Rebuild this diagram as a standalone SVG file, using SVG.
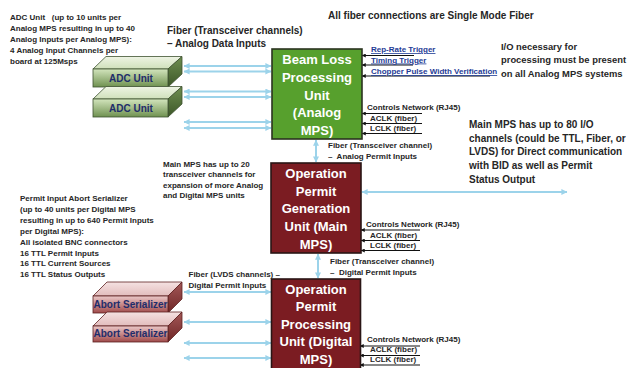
<svg xmlns="http://www.w3.org/2000/svg" width="632" height="368" viewBox="0 0 632 368">
<defs>
<style>
text{font-family:"Liberation Sans",Arial,sans-serif;font-weight:bold;}
.note{font-size:8px;fill:#262626;white-space:pre;}
.big{font-size:10px;fill:#262626;white-space:pre;}
.io{font-size:9.4px;}
.blue{font-size:8px;fill:#1f3c96;text-decoration:underline;}
.unit{font-size:13px;fill:#ffffff;text-anchor:middle;}
.box3{font-size:10px;fill:#1f2d6b;text-anchor:middle;}
.fib{stroke:#9cd3ea;stroke-width:2;fill:none;marker-start:url(#ba);marker-end:url(#ba);}
.ctl{stroke:#111;stroke-width:1.1;fill:none;marker-end:url(#ka);}
.gbox{fill:#57a02d;stroke:#2b3320;stroke-width:1.6;}
.rbox{fill:#7b1c22;stroke:#2a1616;stroke-width:1.6;}
.gs{stroke:#3e5230;stroke-width:0.8;}
.rs{stroke:#5e2222;stroke-width:0.8;}
</style>
<marker id="ba" viewBox="0 0 8 8" refX="7.5" refY="4" markerWidth="7" markerHeight="6" markerUnits="userSpaceOnUse" orient="auto-start-reverse"><path d="M0,0 L8,4 L0,8 Z" fill="#9cd3ea"/></marker>
<marker id="ka" viewBox="0 0 8 8" refX="7.5" refY="4" markerWidth="5" markerHeight="4" markerUnits="userSpaceOnUse" orient="auto"><path d="M0,0 L8,4 L0,8 Z" fill="#111"/></marker>
<linearGradient id="gf" x1="0" y1="0" x2="0" y2="1"><stop offset="0" stop-color="#d3e5bd"/><stop offset="1" stop-color="#6f9150"/></linearGradient>
<linearGradient id="gt" x1="0" y1="0" x2="0" y2="1"><stop offset="0" stop-color="#eef4e4"/><stop offset="1" stop-color="#cfe0ba"/></linearGradient>
<linearGradient id="gr" x1="0" y1="0" x2="0" y2="1"><stop offset="0" stop-color="#6f8f50"/><stop offset="1" stop-color="#3c5628"/></linearGradient>
<linearGradient id="rf" x1="0" y1="0" x2="0" y2="1"><stop offset="0" stop-color="#ebc8c8"/><stop offset="1" stop-color="#a04a4a"/></linearGradient>
<linearGradient id="rt" x1="0" y1="0" x2="0" y2="1"><stop offset="0" stop-color="#f5e2e2"/><stop offset="1" stop-color="#e2bcbc"/></linearGradient>
<linearGradient id="rr" x1="0" y1="0" x2="0" y2="1"><stop offset="0" stop-color="#a45858"/><stop offset="1" stop-color="#6e2626"/></linearGradient>
</defs>
<rect width="632" height="368" fill="#ffffff"/>

<g id="connectors">
<line class="fib" x1="184" y1="66" x2="271" y2="66"/>
<line class="fib" x1="184" y1="71.5" x2="271" y2="71.5"/>
<line class="fib" x1="184" y1="91.5" x2="271" y2="91.5"/>
<line class="fib" x1="184" y1="97" x2="271" y2="97"/>
<line class="fib" x1="184" y1="122" x2="271" y2="122"/>
<line class="fib" x1="184" y1="128" x2="271" y2="128"/>
<line class="fib" x1="316" y1="140" x2="316" y2="162"/>
<line class="fib" x1="318" y1="254" x2="318" y2="278"/>
<line class="fib" x1="362" y1="192" x2="567" y2="192"/>
<line class="fib" x1="184" y1="292" x2="271" y2="292"/>
<line class="fib" x1="184" y1="322" x2="271" y2="322"/>
<line class="fib" x1="184" y1="343" x2="271" y2="343"/>
<line class="fib" x1="184" y1="358" x2="271" y2="358"/>
<line class="ctl" x1="414" y1="55.5" x2="362" y2="55.5"/>
<line class="ctl" x1="413" y1="65" x2="362" y2="65"/>
<line class="ctl" x1="490" y1="76" x2="362" y2="76"/>
<line class="ctl" x1="422" y1="113.5" x2="362" y2="113.5"/>
<line class="ctl" x1="422" y1="123.5" x2="362" y2="123.5"/>
<line class="ctl" x1="422" y1="133.5" x2="362" y2="133.5"/>
<line class="ctl" x1="420" y1="230" x2="361" y2="230"/>
<line class="ctl" x1="420" y1="240.5" x2="361" y2="240.5"/>
<line class="ctl" x1="420" y1="250.5" x2="361" y2="250.5"/>
<line class="ctl" x1="420" y1="346" x2="360" y2="346"/>
<line class="ctl" x1="420" y1="355.5" x2="360" y2="355.5"/>
<line class="ctl" x1="420" y1="365" x2="360" y2="365"/>
</g>

<g id="adc1">
<polygon class="gs" points="93,69 106,56.5 182,56.5 168,69" fill="url(#gt)"/>
<polygon class="gs" points="168,69 182,56.5 182,74 168,87" fill="url(#gr)"/>
<rect class="gs" x="93" y="69" width="75" height="18" fill="url(#gf)"/>
<text class="box3" x="131" y="82">ADC Unit</text>
</g>
<g id="adc2">
<polygon class="gs" points="93,99 106,86.5 182,86.5 168,99" fill="url(#gt)"/>
<polygon class="gs" points="168,99 182,86.5 182,104 168,117" fill="url(#gr)"/>
<rect class="gs" x="93" y="99" width="75" height="18" fill="url(#gf)"/>
<text class="box3" x="131" y="111.5">ADC Unit</text>
</g>

<g id="abort1">
<polygon class="rs" points="93,296 107,282 182,282 168,296" fill="url(#rt)"/>
<polygon class="rs" points="168,296 182,282 182,299 168,313" fill="url(#rr)"/>
<rect class="rs" x="93" y="296" width="75" height="17" fill="url(#rf)"/>
<text class="box3" x="130.5" y="307.5">Abort Serializer</text>
</g>
<g id="abort2">
<polygon class="rs" points="93,326 107,312 182,312 168,326" fill="url(#rt)"/>
<polygon class="rs" points="168,326 182,312 182,328 168,342" fill="url(#rr)"/>
<rect class="rs" x="93" y="326" width="75" height="16" fill="url(#rf)"/>
<text class="box3" x="130.5" y="337">Abort Serializer</text>
</g>

<g id="beamloss">
<rect class="gbox" x="272" y="49" width="90" height="90"/>
<text class="unit" x="317" y="64">Beam Loss</text>
<text class="unit" x="317" y="82">Processing</text>
<text class="unit" x="317" y="99.5">Unit</text>
<text class="unit" x="317" y="117">(Analog</text>
<text class="unit" x="317" y="135">MPS)</text>
</g>

<g id="opgen">
<rect class="rbox" x="271" y="163" width="90" height="90"/>
<text class="unit" x="316" y="177.5">Operation</text>
<text class="unit" x="316" y="195.5">Permit</text>
<text class="unit" x="316" y="213">Generation</text>
<text class="unit" x="316" y="231">Unit (Main</text>
<text class="unit" x="316" y="248.5">MPS)</text>
</g>

<g id="opproc">
<rect class="rbox" x="271.5" y="279" width="89" height="95"/>
<text class="unit" x="316" y="293.5">Operation</text>
<text class="unit" x="316" y="311">Permit</text>
<text class="unit" x="316" y="328.5">Processing</text>
<text class="unit" x="316" y="346">Unit (Digital</text>
<text class="unit" x="316" y="363.5">MPS)</text>
</g>

<g id="labels">
<text class="note" x="10" y="19.5">ADC Unit   (up to 10 units per</text>
<text class="note" x="10" y="30.5">Analog MPS resulting in up to 40</text>
<text class="note" x="10" y="41.5">Analog Inputs per Analog MPS):</text>
<text class="note" x="10" y="52.5">4 Analog Input Channels per</text>
<text class="note" x="10" y="63.5">board at 125Msps</text>

<text class="big" x="167" y="33.5">Fiber (Transceiver channels)</text>
<text class="big" x="167" y="46.5">– Analog Data Inputs</text>

<text class="big" x="328" y="18.5">All fiber connections are Single Mode Fiber</text>

<text class="big io" x="501" y="49.5">I/O necessary for</text>
<text class="big io" x="501" y="63">processing must be present</text>
<text class="big io" x="501" y="76.5">on all Analog MPS systems</text>

<text class="blue" x="371" y="52">Rep-Rate Trigger</text>
<text class="blue" x="371" y="62.5">Timing Trigger</text>
<text class="blue" x="371" y="74">Chopper Pulse Width Verification</text>

<text class="note" x="367" y="110">Controls Network (RJ45)</text>
<text class="note" x="370" y="120.5">ACLK (fiber)</text>
<text class="note" x="370" y="130.5">LCLK (fiber)</text>

<text class="big" x="469" y="127.5">Main MPS has up to 80 I/O</text>
<text class="big" x="469" y="141.5">channels (could be TTL, Fiber, or</text>
<text class="big" x="469" y="155">LVDS) for Direct communication</text>
<text class="big" x="469" y="169">with BID as well as Permit</text>
<text class="big" x="469" y="183">Status Output</text>

<text class="note" x="328" y="147.5">Fiber (Transceiver channel)</text>
<text class="note" x="328" y="158.5">–  Analog Permit Inputs</text>

<text class="note" x="163" y="166.5">Main MPS has up to 20</text>
<text class="note" x="163" y="177">transceiver channels for</text>
<text class="note" x="163" y="187.5">expansion of more Analog</text>
<text class="note" x="163" y="198">and Digital MPS units</text>

<text class="note" x="366" y="227">Controls Network (RJ45)</text>
<text class="note" x="370" y="237.5">ACLK (fiber)</text>
<text class="note" x="370" y="247.5">LCLK (fiber)</text>

<text class="note" x="20" y="200.5">Permit Input Abort Serializer</text>
<text class="note" x="20" y="211.5">(up to 40 units per Digital MPS</text>
<text class="note" x="20" y="222.5">resulting in up to 640 Permit Inputs</text>
<text class="note" x="20" y="233.5">per Digital MPS):</text>
<text class="note" x="20" y="244.5">All isolated BNC connectors</text>
<text class="note" x="20" y="255.5">16 TTL Permit Inputs</text>
<text class="note" x="20" y="266">16 TTL Current Sources</text>
<text class="note" x="20" y="277">16 TTL Status Outputs</text>

<text class="note" x="330" y="263.5">Fiber (Transceiver channel)</text>
<text class="note" x="330" y="274.5">–  Digital Permit Inputs</text>

<text class="note" x="188.5" y="277">Fiber (LVDS channels) –</text>
<text class="note" x="188.5" y="288">Digital Permit Inputs</text>

<text class="note" x="367" y="342">Controls Network (RJ45)</text>
<text class="note" x="370" y="352">ACLK (fiber)</text>
<text class="note" x="370" y="362">LCLK (fiber)</text>
</g>
</svg>
